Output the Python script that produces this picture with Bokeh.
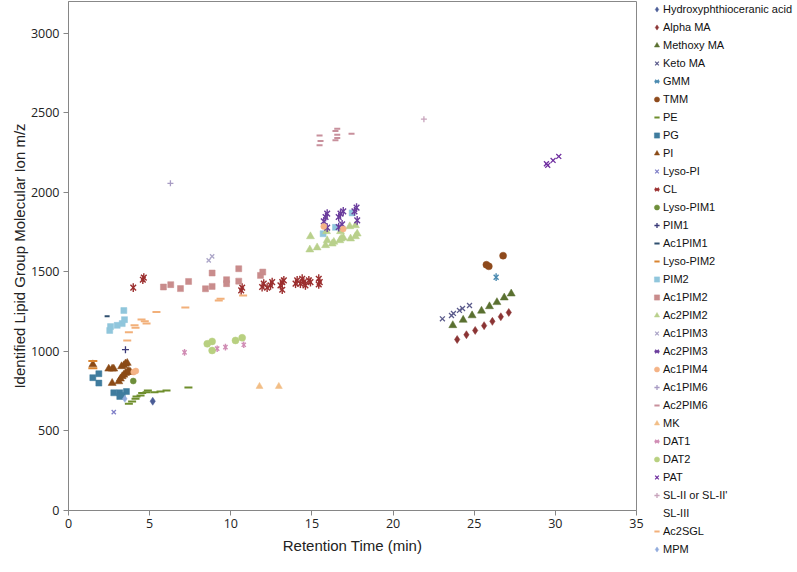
import math
from bokeh.plotting import figure
from bokeh.models import Legend, LegendItem, Range1d, FixedTicker
from bokeh.embed import file_html
from bokeh.resources import INLINE

# ---- data (retention time in min, m/z) ----
hydroxy_x = [5.19]
hydroxy_y = [687]
alpha_x = [23.95, 24.52, 25.06, 25.61, 26.12, 26.64, 27.13]
alpha_y = [1075, 1105, 1132, 1162, 1189, 1218, 1245]
methoxy_x = [23.68, 24.32, 24.87, 25.45, 25.94, 26.40, 26.85, 27.28]
methoxy_y = [1164, 1198, 1226, 1255, 1283, 1309, 1338, 1363]
keto_x = [23.04, 23.60, 23.72, 24.09, 24.28, 24.71]
keto_y = [1205, 1226, 1239, 1258, 1270, 1289]
gmm_x = [26.35]
gmm_y = [1467]
tmm_x = [25.75, 25.90, 26.78]
tmm_y = [1545, 1535, 1602]
pe_x = [3.72, 3.92, 4.13, 4.19, 4.44, 4.54, 4.81, 4.89, 5.30, 5.67, 6.04, 7.39]
pe_y = [671, 686, 702, 717, 723, 738, 744, 755, 744, 748, 755, 774]
pg_x = [1.50, 1.87, 1.87, 2.79, 3.16, 3.57, 3.16, 3.31]
pg_y = [835, 860, 801, 740, 740, 748, 717, 723]
pi_x = [1.50, 2.48, 2.69, 2.79, 3.27, 3.41, 3.51, 3.62, 2.69, 3.10, 3.20, 3.31, 3.41, 3.51, 3.62, 3.72, 3.82]
pi_y = [918, 891, 891, 891, 906, 912, 923, 927, 801, 811, 828, 843, 853, 863, 870, 877, 870]
lysopi_x = [2.79]
lysopi_y = [618]
cl_x = [3.99, 4.58, 4.64, 10.64, 10.70, 11.93, 12.03, 12.24, 12.45, 12.55, 13.06, 13.17, 13.27, 13.17,
        13.99, 14.09, 14.29, 14.40, 14.50, 14.60, 14.81, 14.91, 15.42, 15.48, 15.42]
cl_y = [1401, 1451, 1464, 1384, 1401, 1405, 1426, 1401, 1415, 1436, 1415, 1436, 1447, 1388,
        1426, 1447, 1426, 1457, 1436, 1415, 1447, 1436, 1457, 1436, 1421]
lysopim1_x = [3.99]
lysopim1_y = [814]
pim1_x = [3.51]
pim1_y = [1011]
ac1pim1_x = [2.38]
ac1pim1_y = [1222]
lysopim2_x = [1.50, 1.50]
lysopim2_y = [940, 895]
pim2_x = [2.54, 2.59, 3.00, 3.31, 3.45, 3.41, 15.69, 16.45, 17.48]
pim2_y = [1132, 1156, 1164, 1175, 1200, 1257, 1740, 1780, 1871]
ac1pim2_x = [5.85, 6.30, 6.90, 7.40, 8.44, 8.85, 8.85, 9.74, 9.74, 10.49, 10.49, 11.83, 11.97]
ac1pim2_y = [1405, 1420, 1395, 1440, 1394, 1409, 1493, 1451, 1426, 1520, 1442, 1478, 1499]
ac2pim2_x = [14.87, 14.91, 15.32, 15.84, 15.94, 16.25, 16.35, 16.72, 16.80, 16.93, 17.38, 17.68, 17.79,
             17.33, 17.68, 15.90, 16.76]
ac2pim2_y = [1640, 1723, 1653, 1667, 1698, 1677, 1688, 1698, 1709, 1715, 1709, 1723, 1740,
             1786, 1792, 1755, 1755]
ac1pim3_x = [8.64, 8.85]
ac1pim3_y = [1572, 1598]
ac2pim3_x = [15.73, 15.84, 15.94, 15.94, 16.65, 16.76, 16.93, 16.65, 16.86, 17.62, 17.75, 17.79]
ac2pim3_y = [1818, 1845, 1866, 1778, 1845, 1866, 1881, 1782, 1799, 1881, 1904, 1824]
ac1pim4_x = [4.02, 4.15, 15.73, 16.93]
ac1pim4_y = [870, 877, 1786, 1770]
ac1pim6_x = [6.28]
ac1pim6_y = [2057]
ac2pim6_x = [15.47, 15.53, 15.47, 16.56, 16.45, 16.56, 16.56, 16.45, 17.44]
ac2pim6_y = [2358, 2323, 2296, 2400, 2386, 2363, 2342, 2327, 2369]
mk_x = [11.77, 12.96]
mk_y = [780, 780]
dat1_x = [7.15, 9.16, 9.67, 10.80]
dat1_y = [994, 1017, 1027, 1042]
dat2_x = [8.55, 8.85, 8.85, 10.29, 10.70]
dat2_y = [1048, 1063, 1006, 1069, 1086]
pat_x = [29.45, 29.53, 29.86, 30.21]
pat_y = [2180, 2170, 2201, 2226]
sl2_x = [21.9]
sl2_y = [2460]
sl3_x = []
sl3_y = []
ac2sgl_x = [3.62, 3.72, 4.07, 4.13, 4.50, 4.70, 4.81, 5.42, 7.20, 9.26, 9.37, 10.76]
ac2sgl_y = [1069, 1120, 1164, 1149, 1201, 1189, 1176, 1248, 1277, 1321, 1331, 1352]
mpm_x = [3.47]
mpm_y = [702]

x_ticks = [0, 5, 10, 15, 20, 25, 30, 35]
y_ticks = [0, 500, 1000, 1500, 2000, 2500, 3000]

series = [
    ("Hydroxyphthioceranic acid", hydroxy_x, hydroxy_y, "diamond", "#4A5C96", 8),
    ("Alpha MA", alpha_x, alpha_y, "diamond", "#8B3434", 8),
    ("Methoxy MA", methoxy_x, methoxy_y, "triangle", "#5A7030", 8),
    ("Keto MA", keto_x, keto_y, "x", "#5C5C8C", 7),
    ("GMM", gmm_x, gmm_y, "star", "#4A8AB0", 7),
    ("TMM", tmm_x, tmm_y, "circle", "#8E4A1C", 7),
    ("PE", pe_x, pe_y, "dash", "#6E8E2C", 8),
    ("PG", pg_x, pg_y, "square", "#3F7C9E", 6),
    ("PI", pi_x, pi_y, "triangle", "#8B4A16", 8),
    ("Lyso-PI", lysopi_x, lysopi_y, "x", "#8080C8", 6),
    ("CL", cl_x, cl_y, "star", "#9B2E2E", 8),
    ("Lyso-PIM1", lysopim1_x, lysopim1_y, "circle", "#6E8E3A", 6),
    ("PIM1", pim1_x, pim1_y, "cross", "#3A3A78", 7),
    ("Ac1PIM1", ac1pim1_x, ac1pim1_y, "dash", "#2F4F6F", 5),
    ("Lyso-PIM2", lysopim2_x, lysopim2_y, "dash", "#D98430", 9),
    ("PIM2", pim2_x, pim2_y, "square", "#90C6DC", 6),
    ("Ac1PIM2", ac1pim2_x, ac1pim2_y, "square", "#C98C8C", 6),
    ("Ac2PIM2", ac2pim2_x, ac2pim2_y, "triangle", "#B9D08C", 8),
    ("Ac1PIM3", ac1pim3_x, ac1pim3_y, "x", "#ACA6C8", 6),
    ("Ac2PIM3", ac2pim3_x, ac2pim3_y, "star", "#6A3C9C", 8),
    ("Ac1PIM4", ac1pim4_x, ac1pim4_y, "circle", "#F4B386", 6),
    ("Ac1PIM6", ac1pim6_x, ac1pim6_y, "cross", "#A89CC4", 6),
    ("Ac2PIM6", ac2pim6_x, ac2pim6_y, "dash", "#C8909C", 6),
    ("MK", mk_x, mk_y, "triangle", "#F2BE86", 7),
    ("DAT1", dat1_x, dat1_y, "star", "#D08CB4", 6),
    ("DAT2", dat2_x, dat2_y, "circle", "#B8D080", 7),
    ("PAT", pat_x, pat_y, "x", "#7030A0", 7),
    ("SL-II or SL-II'", sl2_x, sl2_y, "cross", "#C8A4BC", 6),
    ("SL-III", sl3_x, sl3_y, "dash", "#E4B4C4", 5),
    ("Ac2SGL", ac2sgl_x, ac2sgl_y, "dash", "#F2B07A", 8),
    ("MPM", mpm_x, mpm_y, "diamond", "#90AADC", 7),
]

p = figure(frame_width=568, frame_height=509, output_backend="svg", toolbar_location=None,
           x_range=Range1d(0, 35), y_range=Range1d(0, 3200),
           min_border_left=68, min_border_top=1, min_border_bottom=58, min_border_right=20)
p.grid.visible = False
p.outline_line_color = "#888888"
p.outline_line_width = 1
p.background_fill_color = "white"
p.border_fill_color = "white"

for ax in (p.xaxis, p.yaxis):
    ax.axis_line_color = "#868686"
    ax.major_tick_line_color = "#868686"
    ax.minor_tick_line_color = None
    ax.major_tick_in = 0
    ax.major_tick_out = 5
    ax.major_label_text_font = "Open Sans"
    ax.major_label_text_font_size = "12.5px"
    ax.major_label_text_color = "#222222"
    ax.axis_label_text_font = "Liberation Sans"
    ax.axis_label_text_font_size = "15px"
    ax.axis_label_text_font_style = "normal"
    ax.axis_label_text_color = "#222222"

p.xaxis.ticker = FixedTicker(ticks=x_ticks)
p.yaxis.ticker = FixedTicker(ticks=y_ticks)
p.xaxis.axis_label = "Retention Time (min)"
p.yaxis.axis_label = "Identified Lipid Group Molecular Ion m/z"
p.xaxis.major_label_standoff = 3
p.yaxis.major_label_standoff = 4
p.xaxis.axis_label_standoff = 6
p.yaxis.axis_label_standoff = 0

items = []
for name, xs, ys, marker, color, size in series:
    if marker == "star":
        r1 = p.scatter(xs, ys, marker="x", size=size, line_color=color, line_width=1.4)
        r2 = p.scatter(xs, ys, marker="dash", angle=math.pi / 2, size=size * 1.1,
                       line_color=color, line_width=1.4)
        rs = [r1, r2]
    elif marker in ("x", "cross", "dash"):
        r = p.scatter(xs, ys, marker=marker, size=size, line_color=color, fill_color=None,
                      line_width=2 if marker == "dash" else 1.3)
        rs = [r]
    else:
        r = p.scatter(xs, ys, marker=marker, size=size, line_color=color, fill_color=color,
                      line_width=0.5)
        rs = [r]
    items.append(LegendItem(label=name, renderers=rs))

legend = Legend(items=items, location=(14, -48), orientation="vertical",
                label_text_font="Liberation Sans", label_text_font_size="11px",
                label_text_color="#111111", label_standoff=0,
                glyph_width=13, glyph_height=18, label_height=18, spacing=0,
                padding=0, margin=0, border_line_color=None, background_fill_alpha=0)
p.add_layout(legend, "right")

open("out.html", "w").write(file_html(p, INLINE))
